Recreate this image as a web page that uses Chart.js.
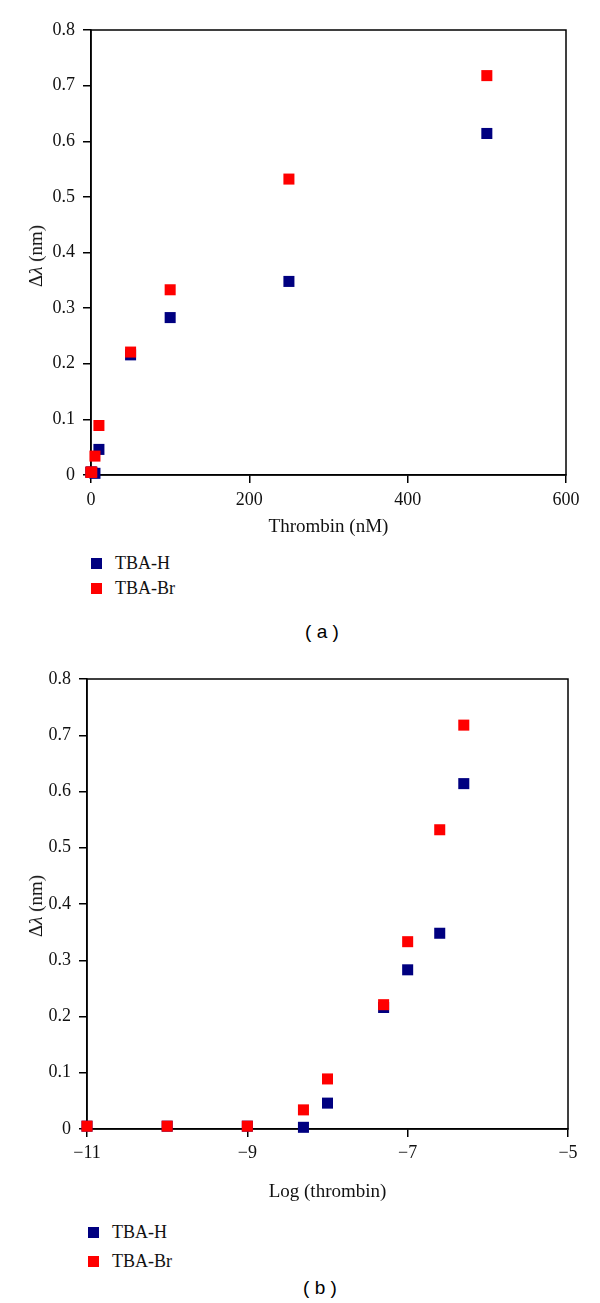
<!DOCTYPE html>
<html><head><meta charset="utf-8">
<script src="https://cdn.jsdelivr.net/npm/chart.js@4"></script>
<style>
body{margin:0;background:#fff;width:600px;height:1303px;position:relative;overflow:hidden;font-family:"Liberation Serif",serif;color:#111}
canvas{position:absolute;left:0}
.ytitle{position:absolute;transform:translate(-50%,-50%) rotate(-90deg);font-size:19px;white-space:nowrap}
.row{position:absolute;white-space:nowrap;display:flex;align-items:center;height:24px;font-size:18px}
.sw{display:inline-block;width:11px;height:11px;margin-right:13px}
.cap{position:absolute;transform:translate(-50%,-50%);font-family:"Liberation Sans",Arial,sans-serif;font-size:19px;white-space:pre;color:#000}
</style></head>
<body>
<canvas id="ca" width="600" height="545" style="top:0"></canvas>
<canvas id="cb" width="600" height="560" style="top:650px"></canvas>
<div class="ytitle" style="left:36px;top:256px">Δ<i>λ</i> (nm)</div>
<div class="ytitle" style="left:36px;top:906px">Δ<i>λ</i> (nm)</div>
<div id="legA"></div>
<div id="legB"></div>
<div class="cap" style="left:322px;top:632px">( a )</div>
<div class="cap" style="left:320px;top:1288px">( b )</div>
<script>
// ---- data ----
const seriesNames = ['TBA-H', 'TBA-Br'];
const seriesColors = ['#000080', '#ff0000'];
const concentrationNM = [0.01, 0.1, 1, 5, 10, 50, 100, 250, 500];
const logThrombin = [-11, -10, -9, -8.3, -8, -7.3, -7, -6.6, -6.3];
const tbaH  = [0.005, 0.005, 0.005, 0.003, 0.046, 0.216, 0.283, 0.348, 0.614];
const tbaBr = [0.005, 0.005, 0.005, 0.034, 0.089, 0.221, 0.333, 0.532, 0.718];
const yTicks = [0, 0.1, 0.2, 0.3, 0.4, 0.5, 0.6, 0.7, 0.8];
const xTicksA = [0, 200, 400, 600];
const xTicksB = [-11, -9, -7, -5];
const xTitleA = 'Thrombin (nM)';
const xTitleB = 'Log (thrombin)';

const frame = {
  id: 'frame',
  beforeDatasetsDraw(chart) {
    const a = chart.chartArea, ctx = chart.ctx;
    ctx.save();
    ctx.strokeStyle = '#000';
    ctx.lineWidth = 1.5;
    ctx.strokeRect(a.left, a.top, a.right - a.left, a.bottom - a.top);
    ctx.restore();
  }
};

function makeDatasets(xs) {
  const vals = [tbaH, tbaBr];
  return seriesNames.map((name, i) => ({
    label: name,
    data: xs.map((x, j) => ({x: x, y: vals[i][j]})),
    pointStyle: 'rect',
    pointRadius: 7.8,
    pointHoverRadius: 7.8,
    pointBorderWidth: 0,
    pointBackgroundColor: seriesColors[i],
    backgroundColor: seriesColors[i],
    borderColor: seriesColors[i],
    showLine: false,
    clip: false,
    order: seriesNames.length - 1 - i
  }));
}

const tickFont = {family: '"Liberation Serif", serif', size: 18};
const titleFont = {family: '"Liberation Serif", serif', size: 19};
const fmt = v => (v < 0 ? '\u2212' + Math.abs(v) : String(v));

function makeChart(id, xs, xTicks, xTitle, geom) {
  return new Chart(document.getElementById(id), {
    type: 'scatter',
    data: {datasets: makeDatasets(xs)},
    plugins: [frame],
    options: {
      responsive: false,
      animation: false,
      events: [],
      layout: {padding: {left: 0, top: geom.top, right: geom.right, bottom: 0}},
      plugins: {legend: {display: false}, tooltip: {enabled: false}},
      scales: {
        x: {
          type: 'linear',
          min: xTicks[0], max: xTicks[xTicks.length - 1],
          afterBuildTicks: s => { s.ticks = xTicks.map(v => ({value: v})); },
          afterFit: s => { s.height = geom.xh; },
          grid: {display: true, drawOnChartArea: false, drawTicks: true, tickLength: 8, color: '#000', lineWidth: 1.5},
          border: {display: true, color: '#000', width: 1.5},
          ticks: {color: '#111', font: tickFont, padding: geom.xpad, maxRotation: 0, callback: v => fmt(v)},
          title: {display: true, text: xTitle, color: '#111', font: titleFont, padding: {top: 0, bottom: geom.tpad}}
        },
        y: {
          type: 'linear',
          min: yTicks[0], max: yTicks[yTicks.length - 1],
          afterBuildTicks: s => { s.ticks = yTicks.map(v => ({value: v})); },
          afterFit: s => { s.width = geom.yw; },
          grid: {display: true, drawOnChartArea: false, drawTicks: true, tickLength: 8, color: '#000', lineWidth: 1.5},
          border: {display: true, color: '#000', width: 1.5},
          ticks: {color: '#111', font: tickFont, padding: 8, callback: v => String(v)}
        }
      }
    }
  });
}

makeChart('ca', concentrationNM, xTicksA, xTitleA, {top: 30, right: 34, xh: 70, yw: 91, xpad: 6, tpad: 7});
makeChart('cb', logThrombin, xTicksB, xTitleB, {top: 29, right: 32, xh: 81, yw: 87, xpad: 5, tpad: 7});

function legend(el, left, centers) {
  const box = document.getElementById(el);
  seriesNames.forEach((name, i) => {
    const r = document.createElement('div');
    r.className = 'row';
    r.style.left = left + 'px';
    r.style.top = (centers[i] - 12) + 'px';
    const sw = document.createElement('span');
    sw.className = 'sw';
    sw.style.background = seriesColors[i];
    r.appendChild(sw);
    r.appendChild(document.createTextNode(name));
    box.appendChild(r);
  });
}
legend('legA', 91, [563, 588]);
legend('legB', 88, [1232, 1261]);
</script>
</body></html>
